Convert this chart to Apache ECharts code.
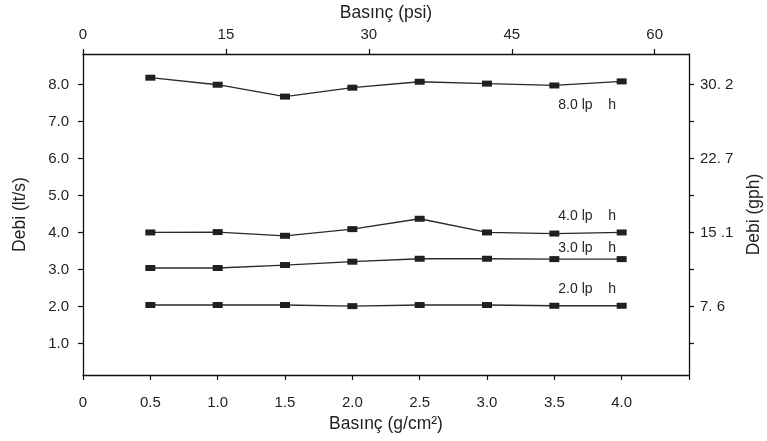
<!DOCTYPE html>
<html><head><meta charset="utf-8">
<script src="https://cdn.jsdelivr.net/npm/echarts@6/dist/echarts.min.js"></script>
<style>html,body{margin:0;padding:0;background:#fff}#c{width:767px;height:441px}</style>
</head><body><div id="c"></div>
<script>
// ---- data ----
const pressure = [0.5, 1.0, 1.5, 2.0, 2.5, 3.0, 3.5, 4.0];            // g/cm2
const flow8 = [8.18, 7.99, 7.67, 7.91, 8.07, 8.02, 7.97, 8.08];
const flow4 = [4.00, 4.01, 3.91, 4.09, 4.37, 4.00, 3.97, 4.00];
const flow3 = [3.04, 3.04, 3.12, 3.21, 3.29, 3.29, 3.28, 3.28];
const flow2 = [2.04, 2.04, 2.04, 2.01, 2.04, 2.04, 2.02, 2.02];
const seriesNames = ['8.0 lp    h', '4.0 lp    h', '3.0 lp    h', '2.0 lp    h'];
const labelOffsets = [[4, 20], [4, -17], [4, -11], [4, -17]];
const leftTicks = [1, 2, 3, 4, 5, 6, 7, 8];
const leftTickLabels = ['1.0', '2.0', '3.0', '4.0', '5.0', '6.0', '7.0', '8.0'];
const rightTickValues = [2, 4, 6, 8];
const rightTickLabels = ['7. 6', '15 .1', '22. 7', '30. 2'];
const bottomTicks = [0, 0.5, 1.0, 1.5, 2.0, 2.5, 3.0, 3.5, 4.0, 4.5];
const bottomTickLabels = ['0', '0.5', '1.0', '1.5', '2.0', '2.5', '3.0', '3.5', '4.0', ''];
const psiTicks = [0, 15, 30, 45, 60];

const FONT = '"Liberation Sans", Arial, sans-serif';
const TXT = '#231f20';
const all = [flow8, flow4, flow3, flow2];

const chart = echarts.init(document.getElementById('c'), null, {renderer: 'canvas'});
const axisLine = {show: true, onZero: false, lineStyle: {color: '#111', width: 1.3}};
const tickStyle = {show: true, length: 5, inside: false, lineStyle: {color: '#111', width: 1.2}};
const labelBase = {color: TXT, fontFamily: FONT, fontSize: 15};
const nameStyle = {color: TXT, fontFamily: FONT, fontSize: 17.5};

chart.setOption({
  animation: false,
  backgroundColor: '#fff',
  grid: {left: 83, right: 78, top: 54, bottom: 66, containLabel: false, outerBoundsMode: 'none'},
  xAxis: [
    {
      type: 'value', position: 'bottom', min: 0, max: 4.5,
      name: 'Basınç (g/cm²)', nameLocation: 'middle', nameGap: 40,
      nameTextStyle: nameStyle,
      axisLine: axisLine,
      axisTick: Object.assign({customValues: bottomTicks}, tickStyle),
      axisLabel: Object.assign({customValues: bottomTicks, margin: 20,
        formatter: v => bottomTickLabels[bottomTicks.findIndex(t => Math.abs(t - v) < 1e-6)] ?? ''}, labelBase),
      splitLine: {show: false}
    },
    {
      type: 'value', position: 'top', min: 0, max: 63.6,
      name: 'Basınç (psi)', nameLocation: 'middle', nameGap: 32,
      nameTextStyle: nameStyle,
      axisLine: axisLine,
      axisTick: Object.assign({customValues: psiTicks}, tickStyle),
      axisLabel: Object.assign({customValues: psiTicks, margin: 12, formatter: v => String(v)}, labelBase),
      splitLine: {show: false}
    }
  ],
  yAxis: [
    {
      type: 'value', position: 'left', min: 0.15, max: 8.82,
      name: 'Debi (lt/s)', nameLocation: 'middle', nameGap: 54,
      nameTextStyle: nameStyle,
      axisLine: axisLine,
      axisTick: Object.assign({customValues: leftTicks}, tickStyle),
      axisLabel: Object.assign({customValues: leftTicks, margin: 14,
        formatter: v => leftTickLabels[leftTicks.indexOf(Math.round(v))] ?? ''}, labelBase),
      splitLine: {show: false}
    },
    {
      type: 'value', position: 'right', min: 0.15, max: 8.82,
      name: 'Debi (gph)', nameLocation: 'middle', nameGap: 56,
      nameTextStyle: nameStyle,
      axisLine: axisLine,
      axisTick: Object.assign({customValues: leftTicks}, tickStyle),
      axisLabel: Object.assign({customValues: rightTickValues, margin: 11,
        formatter: v => rightTickLabels[rightTickValues.indexOf(Math.round(v))] ?? ''}, labelBase),
      splitLine: {show: false}
    }
  ],
  series: all.map((vals, si) => ({
    type: 'line',
    name: seriesNames[si],
    xAxisIndex: 0, yAxisIndex: 0,
    symbol: 'rect', symbolSize: [10, 6],
    itemStyle: {color: '#231f20'},
    lineStyle: {color: '#2a2a2a', width: 1.3},
    data: vals.map((v, i) => {
      const d = {value: [pressure[i], v]};
      if (i === 6) {
        d.label = {show: true, position: 'inside', align: 'left', verticalAlign: 'middle',
          offset: labelOffsets[si], formatter: seriesNames[si],
          color: TXT, fontFamily: FONT, fontSize: 14};
      }
      return d;
    }),
    label: {show: false}
  }))
});
</script></body></html>
